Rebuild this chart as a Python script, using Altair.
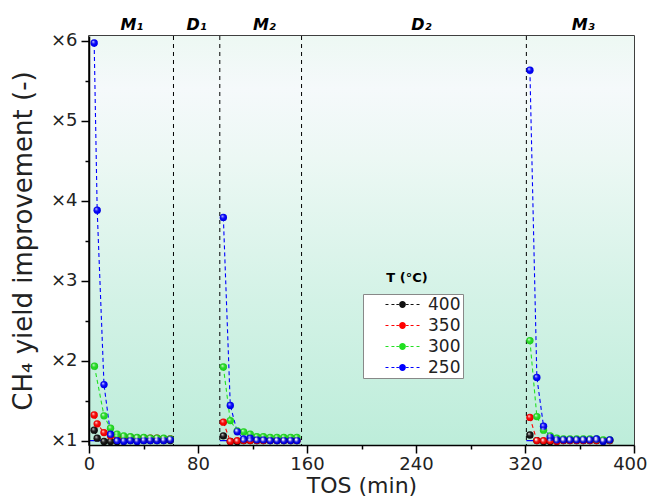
import altair as alt
import pandas as pd

# ---------------- data ----------------
TEMPS = ["400", "350", "300", "250"]
COLORS = ["#111111", "#ff0000", "#22e022", "#0000ff"]

M1_X = [3.8, 6.0, 11.0, 15.8, 20.6, 25.5, 30.4, 35.3, 40.2, 45.0, 49.9, 54.8, 59.7]
M1_X_300 = [4.0, 11.0, 15.8, 20.6, 25.5, 30.4, 35.3, 40.2, 45.0, 49.9, 54.8, 59.7]
M2_X = [98.6, 103.7, 108.8, 113.5, 118.3, 123.2, 128.0, 133.0, 138.0, 143.0, 148.0, 152.6]
M3_X = [323.6, 328.7, 333.6, 338.5, 343.3, 348.2, 353.0, 357.9, 362.8, 367.6, 372.5, 377.4, 382.2]

M1_400 = [1.13, 1.03, 0.99, 0.99, 0.99, 1.00, 1.00, 1.00, 1.00, 1.00, 1.00, 1.00, 1.00]
M1_350 = [1.32, 1.21, 1.10, 1.06, 1.05, 1.04, 1.04, 1.03, 1.03, 1.03, 1.03, 1.02, 1.02]
M1_300 = [1.93, 1.31, 1.155, 1.08, 1.06, 1.05, 1.04, 1.04, 1.03, 1.03, 1.03, 1.02]
M1_250 = [5.97, 3.88, 1.70, 1.08, 1.00, 0.99, 1.00, 0.99, 1.00, 1.00, 1.00, 1.00, 1.01]

M2_400 = [1.06, 0.99, 0.99, 1.00, 1.00, 1.00, 1.00, 1.00, 1.00, 1.00, 1.00, 1.00]
M2_350 = [1.23, 0.99, 1.00, 1.00, 1.00, 1.00, 1.00, 1.00, 1.00, 1.00, 1.00, 1.00]
M2_300 = [1.92, 1.25, 1.12, 1.11, 1.08, 1.05, 1.05, 1.04, 1.04, 1.04, 1.04, 1.04]
M2_250 = [3.79, 1.44, 1.11, 1.02, 1.03, 1.01, 1.01, 1.00, 1.00, 1.00, 1.00, 1.00]

M3_400 = [1.07, 1.00, 0.99, 0.99, 1.00, 1.00, 1.00, 1.00, 1.00, 1.00, 1.00, 1.00, 1.00]
M3_350 = [1.29, 1.00, 1.00, 1.00, 0.99, 1.00, 1.00, 1.00, 1.00, 1.00, 1.00, 1.00, 1.00]
M3_300 = [2.25, 1.30, 1.13, 1.06, 1.03, 1.02, 1.02, 1.02, 1.02, 1.02, 1.02, 1.01, 1.01]
M3_250 = [5.63, 1.79, 1.18, 1.04, 1.01, 1.01, 1.01, 1.01, 1.01, 1.01, 1.02, 0.99, 1.01]

DIVIDERS = [62, 96, 156, 321]
BASE_START = [0, 96, 321]
BASE_END = [60, 153, 382]
PHASE_X = [31.5, 79, 128.7, 244, 362.7]
PHASE_TEXT = ["M\u2081", "D\u2081", "M\u2082", "D\u2082", "M\u2083"]

XTICKS = [0, 40, 80, 120, 160, 200, 240, 280, 320, 360, 400]
YTICKS = [1, 1.5, 2, 2.5, 3, 3.5, 4, 4.5, 5, 5.5, 6]

# ---------------- table ----------------
rows = []
series = {
    "400": [("M1", M1_X, M1_400), ("M2", M2_X, M2_400), ("M3", M3_X, M3_400)],
    "350": [("M1", M1_X, M1_350), ("M2", M2_X, M2_350), ("M3", M3_X, M3_350)],
    "300": [("M1", M1_X_300, M1_300), ("M2", M2_X, M2_300), ("M3", M3_X, M3_300)],
    "250": [("M1", M1_X, M1_250), ("M2", M2_X, M2_250), ("M3", M3_X, M3_250)],
}
for t in TEMPS:
    for seg, xs, ys in series[t]:
        for x, y in zip(xs, ys):
            rows.append({"T": t, "seg": t + seg, "x": x, "y": y})
df = pd.DataFrame(rows)

W, H = 545, 409
FONT = "DejaVu Sans"

xscale = alt.Scale(domain=[0, 400], nice=False, zero=False)
yscale = alt.Scale(domain=[0.945, 6.0575], nice=False, zero=False)
cscale = alt.Scale(domain=TEMPS, range=COLORS)
# same colours, domain listed in the other order so its (disabled) legend is kept apart
sscale = alt.Scale(domain=TEMPS[::-1], range=COLORS[::-1])

LEG_PATH = ("M-2,-0.06H-1.65V0.06H-2Z M-1.3,-0.06H-0.95V0.06H-1.3Z "
            "M-0.72,-0.06H-0.42V0.06H-0.72Z M0.42,-0.06H0.72V0.06H0.42Z "
            "M0.95,-0.06H1.3V0.06H0.95Z M1.65,-0.06H2V0.06H1.65Z "
            "M0.4,0A0.4,0.4,0,1,1,-0.4,0A0.4,0.4,0,1,1,0.4,0Z")

xaxis = alt.Axis(values=XTICKS,
                 labelExpr="datum.value % 80 === 0 ? format(datum.value, 'd') : ''",
                 tickSize={"condition": {"test": "datum.value % 80 === 0", "value": 8}, "value": 4},
                 labelAlign={"condition": {"test": "datum.value === 400", "value": "right"}, "value": "center"},
                 labelOffset={"condition": {"test": "datum.value === 400", "value": 13}, "value": 0},
                 tickWidth=1.5, tickColor="black", domainColor="black", domainWidth=1.5,
                 labelFont=FONT, labelFontSize=18, labelColor="#222", labelPadding=2,
                 labelFlush=False, grid=False, zindex=2,
                 title="TOS (min)", titleFont=FONT, titleFontSize=22, titleFontWeight="normal",
                 titleColor="#222", titleBaseline="alphabetic", titleY=47)
yaxis = alt.Axis(values=YTICKS,
                 labelExpr="datum.value % 1 === 0 ? '\u00d7' + format(datum.value, 'd') : ''",
                 tickSize={"condition": {"test": "datum.value % 1 === 0", "value": 8}, "value": 4},
                 tickWidth=1.5, tickColor="black", domainColor="black", domainWidth=1.5,
                 labelFont=FONT, labelFontSize=18, labelColor="#222", labelPadding=4,
                 labelFlush=False, grid=False, zindex=2,
                 title="CH\u2084 yield improvement (-)", titleFont=FONT, titleFontSize=26,
                 titleFontWeight="normal", titleColor="#222", titlePadding=14)

bg = alt.Chart(pd.DataFrame({"k": [0]})).mark_rect(
    fill={"gradient": "linear", "x1": 0, "y1": 0, "x2": 0, "y2": 1,
          "stops": [{"offset": 0, "color": "#edf8f3"},
                    {"offset": 0.13, "color": "#f5f9fb"},
                    {"offset": 0.3, "color": "#ecf8f4"},
                    {"offset": 0.65, "color": "#d3f2e6"},
                    {"offset": 1, "color": "#bdedda"}]},
    strokeWidth=0
).encode(x=alt.value(0), x2=alt.value(W), y=alt.value(0), y2=alt.value(H))

div = alt.Chart(pd.DataFrame({"x": DIVIDERS})).mark_rule(
    color="black", strokeDash=[4, 4], strokeWidth=1
).encode(x=alt.X("x:Q", scale=xscale, axis=xaxis))

base = alt.Chart(pd.DataFrame({"x": BASE_START, "x2": BASE_END, "y": [1, 1, 1]})).mark_rule(
    color="#0000ff", strokeWidth=1.2
).encode(x=alt.X("x:Q", scale=xscale), x2="x2:Q", y=alt.Y("y:Q", scale=yscale, axis=yaxis))

lines = alt.Chart(df).mark_line(strokeDash=[4, 3], strokeWidth=1.1).encode(
    x=alt.X("x:Q", scale=xscale),
    y=alt.Y("y:Q", scale=yscale),
    stroke=alt.Stroke("T:N", scale=sscale, legend=None),
    detail="seg:N",
    order="x:Q",
)

dots = alt.Chart(df).mark_circle(size=54, opacity=1).encode(
    x=alt.X("x:Q", scale=xscale),
    y=alt.Y("y:Q", scale=yscale),
    color=alt.Color("T:N", scale=cscale, legend=alt.Legend(
        title=None, orient="none", legendX=274, legendY=258, zindex=3,
        symbolType=LEG_PATH, symbolSize=289, symbolStrokeWidth=0, symbolOpacity=1,
        symbolOffset=29, labelOffset=17, labelFont=FONT, labelFontSize=17,
        labelColor="#222", padding=2, rowPadding=3,
        labelExpr="datum.label + '\u00a0\u00a0\u00a0\u00a0\u00a0'",
        strokeColor="#888888", fillColor="white", cornerRadius=0)),
)

shine = alt.Chart(df).mark_circle(
    size=54, opacity=1,
    fill={"gradient": "radial", "x1": 0.35, "y1": 0.3, "r1": 0, "x2": 0.5, "y2": 0.5, "r2": 0.5,
          "stops": [{"offset": 0, "color": "rgba(255,255,255,0.95)"},
                    {"offset": 0.35, "color": "rgba(255,255,255,0.25)"},
                    {"offset": 0.75, "color": "rgba(0,0,0,0)"},
                    {"offset": 1, "color": "rgba(0,0,0,0.15)"}]}
).encode(x=alt.X("x:Q", scale=xscale), y=alt.Y("y:Q", scale=yscale))

phases = alt.Chart(pd.DataFrame({"x": PHASE_X, "t": PHASE_TEXT})).mark_text(
    font=FONT, fontSize=16, fontStyle="italic", fontWeight="bold", color="black"
).encode(x=alt.X("x:Q", scale=xscale), y=alt.value(-11), text="t:N")

legtitle = alt.Chart(pd.DataFrame({"t": ["T (\u00b0C)"]})).mark_text(
    font=FONT, fontSize=13, fontWeight="bold", color="black"
).encode(x=alt.value(318), y=alt.value(242), text="t:N")

chart = alt.layer(bg, div, base, lines, dots, shine, phases, legtitle).properties(
    width=W, height=H, autosize="none",
    padding={"left": 81, "top": 28, "right": 13, "bottom": 52},
).configure_view(stroke="black", strokeWidth=1.5)

chart.save("out.html", embed_options={"renderer": "svg", "actions": False})
